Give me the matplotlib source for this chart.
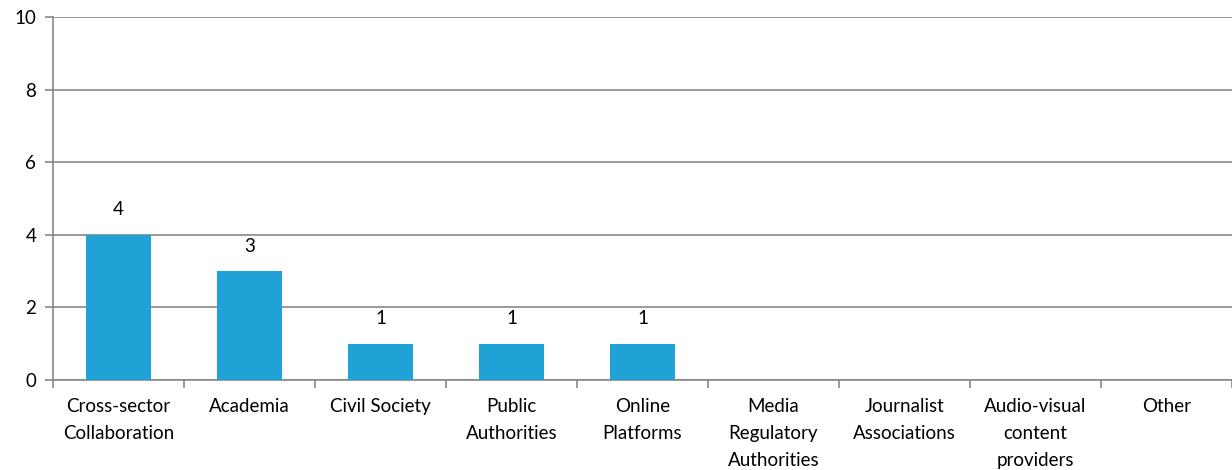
import matplotlib.pyplot as plt
import numpy as np

plt.rcParams['font.family'] = ['Lato', 'DejaVu Sans']

categories = ['Cross-sector\nCollaboration', 'Academia', 'Civil Society', 'Public\nAuthorities',
              'Online\nPlatforms', 'Media\nRegulatory\nAuthorities', 'Journalist\nAssociations',
              'Audio-visual\ncontent\nproviders', 'Other']
values = [4, 3, 1, 1, 1, 0, 0, 0, 0]
yticks = [0, 2, 4, 6, 8, 10]

bar_color = '#21A2D6'
grid_color = '#888888'

fig = plt.figure(figsize=(12.32, 4.70), dpi=100)
ax = fig.add_axes([0.043, 0.1915, 0.957, 0.7723])

x = np.arange(len(categories))
ax.bar(x, values, width=0.5, color=bar_color, zorder=3)

for xi, v in zip(x, values):
    if v > 0:
        ax.text(xi, v + 0.45, str(v), ha='center', va='bottom', fontsize=13.5, color='black')

ax.set_xlim(-0.5, len(categories) - 0.5)
ax.set_ylim(0, 10)
ax.set_yticks(yticks)
ax.set_yticklabels([str(t) for t in yticks], fontsize=13.5)
ax.yaxis.grid(True, color=grid_color, linewidth=1.2, zorder=0)

# category boundaries as ticks
ax.set_xticks(np.arange(-0.5, len(categories) + 0.5, 1.0))
ax.set_xticklabels([])
ax.set_xticks(x, minor=True)
ax.set_xticklabels(categories, minor=True, fontsize=13.5, linespacing=1.72)
ax.tick_params(axis='x', which='major', length=6, width=1.2, color=grid_color)
ax.tick_params(axis='x', which='minor', length=0, pad=13)
ax.tick_params(axis='y', length=6, width=1.2, color=grid_color, pad=6)
for lbl in ax.get_xticklabels(minor=True):
    lbl.set_verticalalignment('top')

for side in ['top', 'right']:
    ax.spines[side].set_visible(False)
ax.spines['left'].set_color(grid_color)
ax.spines['bottom'].set_color(grid_color)
ax.spines['left'].set_linewidth(1.2)
ax.spines['bottom'].set_linewidth(1.2)

fig.savefig('out.png', dpi=100)
